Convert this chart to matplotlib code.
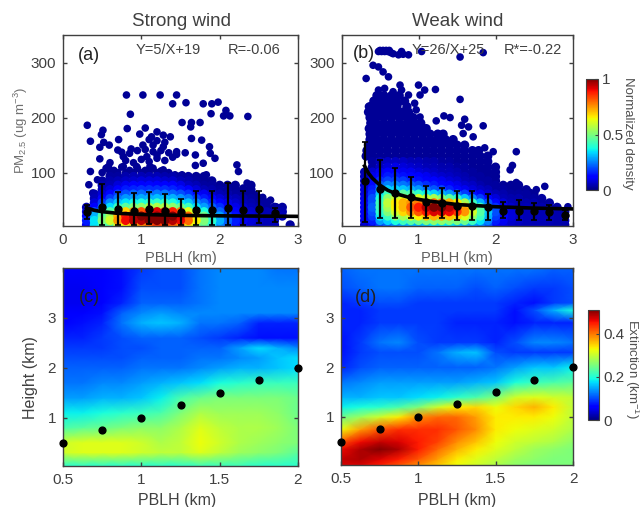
import numpy as np
from matplotlib import pyplot as plt
from matplotlib.cm import ScalarMappable
from matplotlib.colors import Normalize

plt.rcParams['font.family'] = ['Liberation Sans', 'DejaVu Sans']
plt.rcParams['mathtext.fontset'] = 'custom'
plt.rcParams['mathtext.rm'] = 'Liberation Sans'
plt.rcParams['mathtext.it'] = 'Liberation Sans'

n = np.nan
grey = '#404040'

# density cloud, rows are PM2.5 levels, columns are PBLH 0.3 ... 2.9
cloud_x = [.3, .4, .5, .6, .7, .8, .9, 1.0, 1.1, 1.2, 1.3, 1.4, 1.5, 1.6, 1.7, 1.8, 1.9, 2.0, 2.1, 2.2, 2.3, 2.4, 2.5, 2.6, 2.7, 2.8, 2.9]

strong_y = [5, 13, 21, 29, 37, 45, 53, 61, 69, 77, 85, 93]
strong_d = [
    [.1, .35, .4, .45, .6, .65, .7, .75, .8, .85, .85, .8, .75, .65, .5, .45, .35, .25, .2, .12, .08, .06, .05, .05, .05, n, .03],
    [.15, .35, .5, .6, .75, .9, .95, .95, 1, 1, 1, .95, .9, .8, .65, .5, .4, .3, .22, .15, .1, .08, .06, .05, .05, n, n],
    [.12, .3, .45, .55, .72, .88, .95, 1, 1, 1, 1, 1, .92, .8, .62, .48, .38, .28, .2, .14, .1, .08, .06, .05, .05, .05, n],
    [.08, .2, .35, .45, .55, .68, .75, .82, .88, .92, .94, .88, .78, .62, .5, .38, .3, .22, .16, .12, .09, .07, .05, .05, .04, .04, n],
    [.04, .12, .24, .34, .42, .46, .5, .52, .55, .56, .56, .52, .48, .42, .35, .28, .22, .17, .12, .09, .07, .05, .04, .03, .03, .03, n],
    [n, .08, .18, .26, .32, .35, .37, .38, .4, .41, .41, .38, .35, .32, .26, .22, .16, .12, .09, .07, .05, .04, .03, .03, n, n, n],
    [n, .05, .12, .18, .24, .27, .28, .29, .3, .31, .31, .3, .27, .24, .19, .15, .11, .08, .06, .05, .04, .03, .02, n, n, n, n],
    [n, .04, .08, .13, .18, .2, .22, .23, .23, .24, .24, .22, .2, .17, .13, .1, .07, .05, .04, .03, .02, .02, n, n, n, n, n],
    [n, n, .05, .08, .12, .15, .16, .17, .17, .17, .17, .16, .14, .11, .08, .05, .04, .03, .03, .02, .02, .02, n, n, n, n, n],
    [n, n, .04, .05, .08, .1, .11, .12, .13, .12, .11, .11, .09, .06, .05, .03, .03, .02, .02, .02, n, .02, n, n, n, n, n],
    [n, n, .03, .04, .05, .06, .07, .08, .08, .08, .07, .07, .05, .04, .03, .02, .02, n, n, n, n, n, n, n, n, n, n],
    [n, n, n, .03, .03, .04, .05, .05, .05, .05, .04, .04, .03, .03, .02, .02, n, n, n, n, n, n, n, n, n, n, n],
]

weak_y = [5, 13, 21, 29, 37, 45, 53, 61, 69, 77, 85, 93, 101, 110, 120]
weak_d = [
    [.05, .1, .18, .22, .25, .28, .3, .3, .32, .35, .35, .35, .32, .3, .28, .25, .2, .12, .08, .06, .05, .05, .05, .05, .04, .04, .03],
    [.08, .15, .28, .33, .38, .42, .45, .48, .5, .52, .52, .5, .5, .48, .42, .35, .25, .15, .1, .07, .06, .05, .05, .05, .05, .04, .04],
    [.1, .18, .35, .42, .5, .55, .6, .65, .7, .72, .72, .7, .68, .62, .52, .42, .3, .18, .12, .08, .06, .05, .05, .05, .05, .04, .04],
    [.1, .2, .4, .5, .6, .68, .75, .82, .88, .92, .92, .9, .85, .75, .6, .45, .32, .2, .13, .08, .06, .05, .05, .05, .04, .04, .03],
    [.1, .22, .42, .55, .65, .72, .82, .88, .95, 1, 1, .95, .9, .72, .55, .42, .28, .17, .11, .07, .05, .05, .04, .04, .04, .03, n],
    [.1, .2, .42, .58, .66, .72, .75, .78, .8, .8, .78, .72, .66, .55, .42, .3, .2, .13, .08, .05, .04, .04, .04, .03, .03, n, n],
    [.09, .2, .38, .52, .58, .62, .62, .6, .58, .55, .5, .45, .4, .32, .25, .18, .12, .08, .05, .04, .04, .03, .03, .03, n, n, n],
    [.08, .17, .32, .42, .46, .46, .44, .4, .36, .33, .3, .27, .23, .18, .14, .1, .07, .05, .04, .03, .03, .03, .02, n, n, n, n],
    [.08, .15, .27, .33, .33, .32, .3, .27, .24, .21, .19, .16, .13, .1, .08, .06, .05, .03, .03, .02, .02, .02, n, n, n, n, n],
    [.07, .13, .22, .25, .25, .24, .22, .2, .17, .15, .13, .11, .09, .07, .06, .04, .03, .03, .02, .02, .02, n, n, n, n, n, n],
    [.06, .11, .17, .19, .19, .18, .16, .14, .12, .11, .1, .08, .07, .05, .04, .03, .03, .02, n, n, n, n, n, n, n, n, n],
    [.05, .09, .13, .15, .15, .14, .13, .11, .1, .08, .07, .06, .05, .04, .03, .03, .02, .02, n, n, n, n, n, n, n, n, n],
    [.04, .07, .1, .12, .11, .1, .1, .08, .07, .06, .05, .05, .04, .03, .03, .02, .02, .02, n, n, n, n, n, n, n, n, n],
    [n, .03, .06, .08, .09, .08, .07, .06, .05, .05, .04, .04, .03, .03, .02, .02, .02, .02, n, n, n, n, n, n, n, n, n],
    [n, .03, .05, .06, .06, .06, .05, .05, .04, .04, .03, .03, .02, .02, .02, .02, .02, n, n, n, n, n, n, n, n, n, n],
]

# single dark points above the cloud
strong_sparse_x = [.81, 1.02, 1.24, 1.45, 1.40, 1.57, 1.79, 1.90, 1.98, .86, 1.89, 2.08, 2.05, 2.13, 2.36, .31, .82, 1.05, 1.52, 1.64, 1.75, 1.63, .51, .49, .35, .71, .98, 1.2, 1.28, 1.37, 1.13, 1.64, 1.77, .47, .59, .70, .87, 1.02, 1.15, 1.28, 1.45, 1.56, 1.69, 1.87, 1.88, 1.94, .47, .77, 1.07, 1.2, .35, .44, .33, .58, .77, .94, 1.11, 1.28, 1.43, 1.52, 1.69, 1.79, 1.83, 2.22, 2.24, 2.35, 1.86, 2.13, .38,
                   .55, .65, .75, .85, .95, 1.05, 1.15, 1.25, 1.35, .6, .8, .9, 1.0, 1.1, 1.2, 1.3, 1.4, .75, .85, .95, 1.05, 1.15, 1.25, 1.35, 1.45, .52, 1.1, 1.2, 1.3, .5, .6, .7, .8, .9, 1.0, 1.1, 1.2, 1.3, 1.4, 1.5, 1.6, 1.95, 2.05, 2.2, 2.3, 2.45, 2.55, 2.65, 2.72]
strong_sparse_y = [241, 241, 241, 241, 225, 227, 225, 225, 228, 206, 207, 213, 203, 203, 202, 186, 180, 181, 191, 191, 191, 183, 177, 169, 157, 160, 170, 174, 168, 165, 165, 162, 159, 146, 150, 141, 143, 150, 150, 147, 138, 136, 132, 147, 135, 126, 125, 129, 129, 132, 102, 87, 78, 111, 111, 111, 111, 105, 96, 96, 113, 117, 96, 114, 102, 81, 75, 75, 63,
                   108, 104, 110, 104, 108, 104, 108, 103, 100, 118, 122, 118, 124, 120, 126, 122, 128, 137, 135, 140, 142, 138, 140, 136, 133, 155, 160, 158, 155, 100, 100, 100, 100, 100, 100, 100, 100, 100, 92, 92, 85, 70, 65, 70, 72, 60, 55, 50, 38]

weak_sparse_x = [.48, .5, .52, .54, .56, .58, .6, .62, .64, .67, .78, .8, .87, 1.04, 1.84, 1.54, .74, .41, .48, .54, .61, .32, .76, 1.0, 1.08, 1.22, .48, .56, .67, .78, 1.02, 1.54, .87, .95, .74, .35, .97, 1.02, 1.23, 1.33, 1.41, 1.6, 1.56, 1.65, 1.84, 1.71, 1.58, 2.27, 2.22, 2.19, 2.27, 2.12, 1.97, 1.86, 2.64, 2.53, 2.45, 2.94]
weak_sparse_y = [320, 322, 320, 322, 320, 322, 320, 322, 318, 316, 320, 315, 314, 320, 318, 310, 314, 295, 292, 283, 274, 271, 259, 259, 250, 251, 250, 253, 247, 250, 241, 233, 241, 226, 226, 220, 214, 201, 194, 203, 200, 197, 186, 183, 185, 165, 171, 138, 113, 105, 82, 72, 138, 145, 75, 69, 64, 38]

# upper part of the weak wind cloud, one row per level
weak_upper_y = [130, 140, 150, 160, 170, 180, 190, 200, 210, 220, 230, 240]
weak_upper_x = [
    [.32, .4, .5, .6, .7, .8, .9, 1.0, 1.1, 1.2, 1.3, 1.4, 1.5, 1.6, 1.7, 1.8, 1.9],
    [.33, .4, .5, .6, .7, .8, .9, 1.0, 1.1, 1.2, 1.3, 1.4, 1.5, 1.6, 1.7, 1.78],
    [.35, .42, .5, .6, .7, .8, .9, 1.0, 1.1, 1.2, 1.3, 1.4, 1.5, 1.6],
    [.37, .45, .55, .65, .75, .85, .95, 1.05, 1.15, 1.25, 1.35, 1.45],
    [.37, .45, .55, .65, .75, .85, .95, 1.05, 1.15, 1.25, 1.32],
    [.36, .42, .5, .6, .7, .8, .9, 1.0, 1.1],
    [.38, .45, .55, .65, .75, .85, .95, 1.03],
    [.37, .45, .55, .65, .75, .85, .93],
    [.35, .42, .5, .6, .7, .8, .87],
    [.37, .45, .55, .65, .72, .85],
    [.42, .5, .6, .68, .82],
    [.46, .55, .65, .75],
]

# binned mean and range (error bars)
strong_bin_x = [.3, .5, .7, .9, 1.1, 1.3, 1.5, 1.7, 1.9, 2.1, 2.3, 2.5, 2.7]
strong_mean = [29, 38, 34, 31, 34, 31, 28, 32, 32, 35, 32, 34, 26]
strong_top = [41, 79, 64, 63, 64, 61, 52, 66, 66, 81, 67, 67, 35]
strong_bot = [15, 5, 5, 5, 7, 5, 5, 5, 5, 5, 5, 8, 11]

weak_bin_x = [.3, .5, .7, .9, 1.1, 1.3, 1.5, 1.7, 1.9, 2.1, 2.3, 2.5, 2.7, 2.9]
weak_mean = [84, 70, 63, 55, 47, 44, 40, 40, 37, 31, 31, 31, 29, 23]
weak_top = [155, 123, 108, 92, 76, 72, 67, 66, 61, 46, 50, 44, 41, 32]
weak_bot = [11, 17, 17, 17, 17, 17, 14, 14, 14, 17, 13, 14, 14, 14]

# fit curves
strong_fit_x = [.3, .4, .5, .7, 1, 1.5, 2, 2.5, 3]
strong_fit_y = [36, 31.5, 29, 26, 24, 22.3, 21.5, 21, 20.5]
weak_fit_x = [.3, .35, .4, .5, .6, .7, .9, 1.1, 1.5, 2, 2.5, 3]
weak_fit_y = [112, 99, 90, 77, 68, 62, 54, 49, 42, 38, 35.5, 34]

# extinction profiles
ext_x = [.5, .625, .75, .875, 1, 1.125, 1.25, 1.375, 1.5, 1.625, 1.75, 1.875, 2]
strong_h = [.03, .3, .5, .8, 1.1, 1.4, 1.7, 2.0, 2.2, 2.4, 2.6, 2.9, 3.1, 3.3, 3.6, 4.0]
strong_ext = [
    [.20, .20, .20, .20, .20, .20, .20, .21, .21, .21, .20, .20, .20],
    [.30, .31, .31, .31, .30, .29, .29, .31, .29, .27, .26, .25, .23],
    [.30, .31, .31, .31, .30, .28, .29, .32, .30, .28, .27, .26, .25],
    [.22, .23, .24, .25, .26, .26, .28, .31, .29, .28, .28, .27, .25],
    [.18, .18, .19, .20, .21, .22, .25, .28, .27, .27, .27, .26, .24],
    [.14, .14, .15, .15, .16, .18, .22, .24, .25, .25, .25, .25, .24],
    [.12, .12, .13, .13, .14, .15, .16, .17, .19, .20, .21, .21, .21],
    [.11, .11, .11, .11, .12, .12, .12, .13, .14, .15, .15, .16, .17],
    [.10, .10, .10, .10, .11, .11, .11, .12, .12, .13, .14, .16, .17],
    [.09, .09, .09, .10, .10, .11, .11, .11, .11, .14, .17, .15, .13],
    [.08, .08, .09, .10, .11, .11, .11, .10, .09, .08, .07, .07, .07],
    [.06, .07, .08, .12, .15, .16, .15, .12, .12, .11, .08, .08, .08],
    [.06, .06, .07, .11, .13, .14, .13, .13, .13, .13, .13, .13, .13],
    [.05, .05, .06, .08, .11, .11, .11, .12, .13, .13, .13, .13, .13],
    [.05, .05, .06, .07, .10, .10, .10, .12, .13, .13, .13, .13, .13],
    [.06, .06, .06, .07, .09, .10, .10, .12, .13, .13, .13, .12, .12],
]
weak_h = [.03, .15, .35, .5, .75, 1.0, 1.2, 1.4, 1.7, 2.0, 2.3, 2.5, 2.9, 3.15, 3.3, 3.6, 4.0]
weak_ext = [
    [.46, .46, .44, .41, .38, .35, .32, .30, .28, .26, .25, .25, .25],
    [.47, .48, .46, .44, .41, .37, .33, .31, .29, .27, .26, .25, .25],
    [.45, .48, .50, .48, .44, .40, .36, .33, .31, .29, .27, .26, .25],
    [.41, .45, .47, .46, .44, .42, .38, .35, .32, .30, .29, .28, .26],
    [.32, .37, .41, .43, .43, .43, .41, .38, .33, .32, .31, .30, .28],
    [.24, .27, .30, .33, .38, .40, .40, .37, .33, .33, .33, .32, .29],
    [.18, .19, .20, .22, .25, .30, .33, .34, .32, .34, .36, .33, .29],
    [.15, .15, .16, .16, .17, .18, .20, .22, .25, .30, .31, .30, .29],
    [.12, .13, .14, .14, .14, .14, .14, .15, .16, .19, .21, .22, .23],
    [.08, .10, .11, .11, .11, .11, .11, .11, .12, .14, .16, .16, .18],
    [.07, .09, .10, .10, .10, .12, .15, .16, .10, .09, .09, .09, .09],
    [.07, .09, .12, .13, .10, .09, .09, .09, .08, .10, .13, .13, .12],
    [.08, .08, .09, .09, .09, .09, .08, .08, .08, .07, .08, .08, .08],
    [.08, .08, .09, .09, .09, .09, .09, .09, .09, .07, .10, .15, .19],
    [.08, .09, .10, .10, .09, .09, .09, .09, .09, .08, .07, .09, .10],
    [.10, .11, .12, .12, .11, .11, .11, .10, .11, .10, .09, .09, .10],
    [.11, .12, .12, .12, .12, .12, .12, .12, .12, .12, .12, .11, .11],
]

dot_x = [.5, .75, 1, 1.25, 1.5, 1.75, 2]
dot_y = [.5, .75, 1, 1.25, 1.5, 1.75, 2]

W, H = 640, 507
fig = plt.figure(figsize=(W / 100, H / 100), dpi=100)


def px_axes(left, top, right, bottom):
    return fig.add_axes([left / W, 1 - bottom / H, (right - left) / W, (bottom - top) / H])


def px_text(x, y, s, **kw):
    kw.setdefault('color', grey)
    kw.setdefault('ha', 'center')
    kw.setdefault('va', 'center')
    fig.text(x / W, 1 - y / H, s, **kw)


def style(ax):
    ax.tick_params(direction='in', length=3, width=1, top=True, right=True, labelsize=11, colors=grey, pad=5)
    for s in ax.spines.values():
        s.set_color(grey)
        s.set_linewidth(1)


def scatter_panel(ax, cy, cd, sx, sy, upper_y, upper_x, bx, bm, bt, bb, fx, fy):
    xs, ys, ds = [], [], []
    for i, y in enumerate(cy):
        for j, x in enumerate(cloud_x):
            if not np.isnan(cd[i][j]):
                xs.append(x)
                ys.append(y)
                ds.append(cd[i][j])
    for y, row in zip(upper_y, upper_x):
        xs += row
        ys += [y] * len(row)
        ds += [.02] * len(row)
    order = np.argsort(ds)
    ax.scatter(sx, sy, c=[.02] * len(sx), s=30, cmap='jet', vmin=0, vmax=1, linewidths=0, zorder=2)
    ax.scatter(np.array(xs)[order], np.array(ys)[order], c=np.array(ds)[order], s=44, cmap='jet', vmin=0, vmax=1, linewidths=0, zorder=2)
    bm = np.array(bm)
    ax.errorbar(bx, bm, yerr=[bm - np.array(bb), np.array(bt) - bm], fmt='o', color='black', ms=5, elinewidth=1.6, capsize=2, capthick=1.2, zorder=3)
    ax.plot(fx, fy, color='black', lw=2.6, zorder=4)
    ax.set_xlim(0, 3)
    ax.set_ylim(3, 350)
    ax.set_xticks([0, 1, 2, 3])
    ax.set_yticks([100, 200, 300])
    style(ax)


def ext_panel(ax, h, ext):
    ax.pcolormesh(ext_x, h, np.array(ext), cmap='jet', vmin=0, vmax=.5, shading='gouraud')
    ax.scatter(dot_x, dot_y, s=24, color='black', clip_on=False, zorder=5)
    ax.set_xlim(.5, 2)
    ax.set_ylim(.03, 4)
    ax.set_xticks([.5, 1, 1.5, 2])
    ax.set_xticklabels(['0.5', '1', '1.5', '2'])
    ax.set_yticks([1, 2, 3])
    style(ax)


ax_a = px_axes(63, 35, 298, 226)
scatter_panel(ax_a, strong_y, strong_d, strong_sparse_x, strong_sparse_y, [], [], strong_bin_x, strong_mean, strong_top, strong_bot, strong_fit_x, strong_fit_y)
ax_b = px_axes(341.5, 35, 572.5, 226)
scatter_panel(ax_b, weak_y, weak_d, weak_sparse_x, weak_sparse_y, weak_upper_y, weak_upper_x, weak_bin_x, weak_mean, weak_top, weak_bot, weak_fit_x, weak_fit_y)
ax_c = px_axes(63, 268, 298, 466)
ext_panel(ax_c, strong_h, strong_ext)
ax_d = px_axes(341, 268, 573, 465)
ext_panel(ax_d, weak_h, weak_ext)

cax1 = px_axes(586, 79, 598, 190)
cb1 = fig.colorbar(ScalarMappable(Normalize(0, 1), 'jet'), cax=cax1)
cb1.set_ticks([0, .5, 1])
cb1.set_ticklabels(['0', '0.5', '1'])
cax2 = px_axes(588, 310, 599, 420)
cb2 = fig.colorbar(ScalarMappable(Normalize(0, .51), 'jet'), cax=cax2)
cb2.set_ticks([0, .2, .4])
cb2.set_ticklabels(['0', '0.2', '0.4'])
for cb in [cb1, cb2]:
    cb.ax.tick_params(direction='in', length=2, width=.8, labelsize=11, colors=grey, pad=3)
    cb.outline.set_edgecolor(grey)

px_text(181, 22, 'Strong wind', fontsize=13.5)
px_text(458, 22, 'Weak wind', fontsize=13.5)
px_text(168, 50, 'Y=5/X+19', fontsize=10.5)
px_text(254, 50, 'R=-0.06', fontsize=10.5)
px_text(448, 50, 'Y=26/X+25', fontsize=10.5, zorder=10)
px_text(533, 50, 'R*=-0.22', fontsize=10.5, zorder=10)
px_text(89, 55, '(a)', fontsize=13, color='#222222')
px_text(364, 54, '(b)', fontsize=13, color='#222222', zorder=10)
px_text(89, 297, '(c)', fontsize=13, color='#222222')
px_text(366, 297, '(d)', fontsize=13, color='#222222')
px_text(181, 258, 'PBLH (km)', fontsize=10.5, color='#606060')
px_text(457, 258, 'PBLH (km)', fontsize=10.5, color='#606060')
px_text(177, 501, 'PBLH (km)', fontsize=11.5)
px_text(457, 501, 'PBLH (km)', fontsize=11.5)
px_text(21, 130, 'PM$_{2.5}$ (ug m$^{-3}$)', fontsize=9.5, rotation=90, color='#707070')
px_text(30, 378, 'Height (km)', fontsize=11.5, rotation=90)
px_text(628, 133, 'Normalized density', fontsize=9.5, rotation=270, color='#505050')
px_text(632, 369, 'Extinction (km$^{-1}$)', fontsize=9.5, rotation=270, color='#505050')

fig.savefig('out.png', dpi=100)
